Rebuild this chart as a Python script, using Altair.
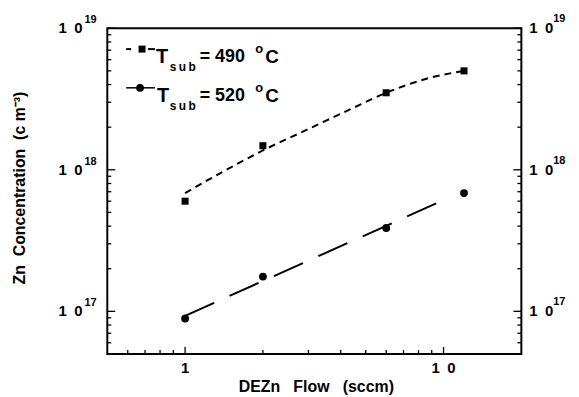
import altair as alt
import pandas as pd

# ---- data ----
flow = [1, 2, 6, 12]
zn_490 = [6.0e17, 1.48e18, 3.5e18, 5.0e18]
zn_520 = [8.9e16, 1.76e17, 3.88e17, 6.85e17]

fit490_flow = [1, 1.43, 2, 3, 4.4, 6, 9, 12]
fit490_zn = [6.85e17, 9.9e17, 1.37e18, 1.94e18, 2.7e18, 3.5e18, 4.5e18, 5.0e18]
fit520_flow = [1, 10.3]
fit520_zn = [9.3e16, 6.25e17]

y_major = [1e17, 1e18, 1e19]
y_major_base = ["1\u20020", "1\u20020", "1\u20020"]
y_major_exp = ["17", "18", "19"]
y_minor = [6e16, 7e16, 8e16, 9e16,
           2e17, 3e17, 4e17, 5e17, 6e17, 7e17, 8e17, 9e17,
           2e18, 3e18, 4e18, 5e18, 6e18, 7e18, 8e18, 9e18]
x_major = [1, 10]
x_major_text = ["1", "1\u20020"]
x_minor = [0.6, 0.7, 0.8, 0.9, 2, 3, 4, 5, 6, 7, 8, 9]

x_title = "DEZn\u00a0\u00a0\u00a0Flow\u00a0\u00a0\u00a0(sccm)"
y_title = "Zn\u00a0\u00a0Concentration\u00a0\u00a0(c\u00a0m\u207b\u00b3)"

W, H = 417, 328
FONT = "Liberation Sans"
xs = alt.Scale(type="log", domain=[0.5, 20], nice=False)
ys = alt.Scale(type="log", domain=[5e16, 1e19], nice=False)


def X(f):
    return alt.X(f + ":Q", scale=xs, axis=None)


def Y(f):
    return alt.Y(f + ":Q", scale=ys, axis=None)


pts490 = pd.DataFrame({"flow": flow, "zn": zn_490})
pts520 = pd.DataFrame({"flow": flow, "zn": zn_520})
fit490 = pd.DataFrame({"flow": fit490_flow, "zn": fit490_zn})
fit520 = pd.DataFrame({"flow": fit520_flow, "zn": fit520_zn})
ymaj = pd.DataFrame({"v": y_major, "b": y_major_base, "e": y_major_exp})
ymin = pd.DataFrame({"v": y_minor})
xmaj = pd.DataFrame({"v": x_major, "t": x_major_text})
xmin = pd.DataFrame({"v": x_minor})
one = pd.DataFrame({"a": [0]})

layers = []

# fitted curves
layers.append(alt.Chart(fit490).mark_line(color="black", strokeWidth=2, strokeDash=[7, 5],
                                           interpolate="monotone")
              .encode(x=X("flow"), y=Y("zn")))
layers.append(alt.Chart(fit520).mark_line(color="black", strokeWidth=2, strokeDash=[32, 17])
              .encode(x=X("flow"), y=Y("zn")))
# data points
layers.append(alt.Chart(pts490).mark_square(size=50, color="black", opacity=1)
              .encode(x=X("flow"), y=Y("zn")))
layers.append(alt.Chart(pts520).mark_circle(size=62, color="black", opacity=1)
              .encode(x=X("flow"), y=Y("zn")))

# inward ticks
tick = dict(color="black", strokeWidth=1.3)
layers.append(alt.Chart(ymaj).mark_rule(**tick).encode(y=Y("v"), x=alt.value(0), x2=alt.value(8)))
layers.append(alt.Chart(ymin).mark_rule(**tick).encode(y=Y("v"), x=alt.value(0), x2=alt.value(4)))
layers.append(alt.Chart(ymaj).mark_rule(**tick).encode(y=Y("v"), x=alt.value(W), x2=alt.value(W - 8)))
layers.append(alt.Chart(ymin).mark_rule(**tick).encode(y=Y("v"), x=alt.value(W), x2=alt.value(W - 4)))
layers.append(alt.Chart(xmaj).mark_rule(**tick).encode(x=X("v"), y=alt.value(H), y2=alt.value(H - 7)))
layers.append(alt.Chart(xmin).mark_rule(**tick).encode(x=X("v"), y=alt.value(H), y2=alt.value(H - 4)))

# tick labels
lab = dict(font=FONT, fontWeight="bold", color="black")
layers.append(alt.Chart(ymaj).mark_text(fontSize=15, align="right", baseline="middle", **lab)
              .encode(y=Y("v"), x=alt.value(-25), text="b:N"))
layers.append(alt.Chart(ymaj).mark_text(fontSize=11, align="left", baseline="middle", dy=-8, **lab)
              .encode(y=Y("v"), x=alt.value(-23), text="e:N"))
layers.append(alt.Chart(ymaj).mark_text(fontSize=15, align="left", baseline="middle", **lab)
              .encode(y=Y("v"), x=alt.value(W + 8), text="b:N"))
layers.append(alt.Chart(ymaj).mark_text(fontSize=11, align="left", baseline="middle", dy=-9, **lab)
              .encode(y=Y("v"), x=alt.value(W + 32), text="e:N"))
layers.append(alt.Chart(xmaj).mark_text(fontSize=15, align="center", baseline="middle", **lab)
              .encode(x=X("v"), y=alt.value(H + 14), text="t:N"))

# axis titles
layers.append(alt.Chart(one).mark_text(fontSize=16, align="center", baseline="middle", **lab)
              .encode(x=alt.value(W / 2 + 2), y=alt.value(H + 33), text=alt.value(x_title)))
layers.append(alt.Chart(one).mark_text(fontSize=16, align="center", baseline="middle", angle=270, **lab)
              .encode(x=alt.value(-88), y=alt.value(161), text=alt.value(y_title)))


# legend
def txt(s, x, y, size, align="left"):
    return (alt.Chart(one).mark_text(fontSize=size, align=align, baseline="alphabetic", **lab)
            .encode(x=alt.value(x), y=alt.value(y), text=alt.value(s)))


for row_y, temp, kind, tx in [(21, "490", "square", 49), (60, "520", "circle", 50)]:
    if kind == "square":
        layers.append(alt.Chart(one).mark_rule(color="black", strokeWidth=2)
                      .encode(x=alt.value(19), x2=alt.value(24), y=alt.value(row_y)))
        layers.append(alt.Chart(one).mark_rule(color="black", strokeWidth=2)
                      .encode(x=alt.value(41), x2=alt.value(48), y=alt.value(row_y)))
        layers.append(alt.Chart(one).mark_square(size=50, color="black", opacity=1)
                      .encode(x=alt.value(35), y=alt.value(row_y)))
    else:
        layers.append(alt.Chart(one).mark_rule(color="black", strokeWidth=1.5)
                      .encode(x=alt.value(19), x2=alt.value(48), y=alt.value(row_y)))
        layers.append(alt.Chart(one).mark_circle(size=62, color="black", opacity=1)
                      .encode(x=alt.value(33), y=alt.value(row_y)))
    layers.append(txt("T", tx, row_y + 14, 20))
    layers.append(txt("s\u2009u\u2009b", 63, row_y + 22, 12))
    layers.append(txt("= " + temp, 93, row_y + 13, 18))
    layers.append(txt("o", 149, row_y + 4, 13))
    layers.append(txt("C", 159, row_y + 14, 19))

chart = (alt.layer(*layers)
         .properties(width=W, height=H,
                     autosize=alt.AutoSizeParams(type="none"),
                     padding={"left": 100, "top": 19, "right": 50, "bottom": 45})
         .configure_view(stroke="black", strokeWidth=2))

chart.save("out.html", embed_options={"renderer": "svg", "actions": False})
